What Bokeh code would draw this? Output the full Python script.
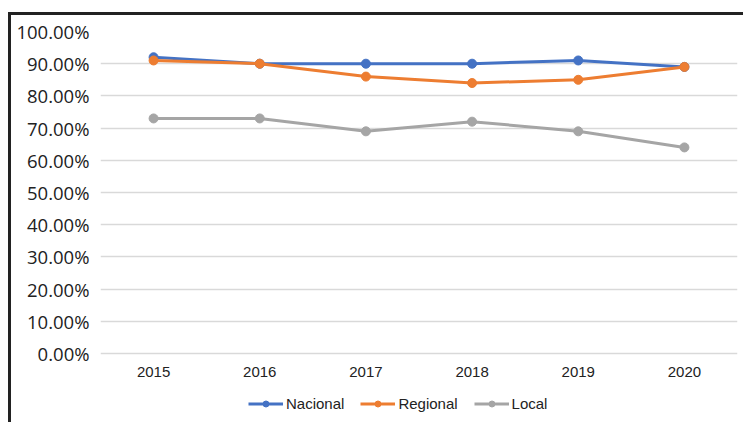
from bokeh.plotting import figure
from bokeh.models import Range1d, NumeralTickFormatter, Legend, LegendItem, FixedTicker
from bokeh.embed import file_html
from bokeh.resources import INLINE

years = ["2015", "2016", "2017", "2018", "2019", "2020"]
nacional = [0.92, 0.90, 0.90, 0.90, 0.91, 0.89]
regional = [0.91, 0.90, 0.86, 0.84, 0.85, 0.89]
local = [0.73, 0.73, 0.69, 0.72, 0.69, 0.64]
series_names = ["Nacional", "Regional", "Local"]
colors = ["#4472C4", "#ED7D31", "#A5A5A5"]
y_ticks = [0, 0.1, 0.2, 0.3, 0.4, 0.5, 0.6, 0.7, 0.8, 0.9, 1.0]

p = figure(x_range=years, y_range=Range1d(-0.2205, 1.0), width=735, height=410,
           output_backend="svg", toolbar_location=None,
           min_border_left=89, min_border_right=9, min_border_top=16, min_border_bottom=1)
p.styles = {"border-top": "3px solid #222", "border-left": "3px solid #222",
            "margin-top": "12px", "margin-left": "8px"}
p.outline_line_color = None
p.background_fill_color = "white"

items = []
for name, vals, c in zip(series_names, [nacional, regional, local], colors):
    l = p.line(years, vals, line_color=c, line_width=3)
    s = p.scatter(years, vals, size=9, fill_color=c, line_color=c)
    items.append(LegendItem(label=name, renderers=[l, s]))

p.yaxis.ticker = FixedTicker(ticks=y_ticks)
p.yaxis.formatter = NumeralTickFormatter(format="0.00%")
p.yaxis.axis_line_color = None
p.yaxis.major_tick_line_color = None
p.yaxis.minor_tick_line_color = None
p.yaxis.major_label_text_font = "Open Sans"
p.yaxis.major_label_text_font_size = "18.5px"
p.yaxis.major_label_text_color = "#222"
p.yaxis.major_label_standoff = 5

p.xaxis.fixed_location = 0
p.xaxis.axis_line_color = None
p.xaxis.major_tick_line_color = None
p.xaxis.major_label_text_font = "Liberation Sans"
p.xaxis.major_label_text_font_size = "15px"
p.xaxis.major_label_text_color = "#222"
p.xaxis.major_label_standoff = 8

p.xgrid.grid_line_color = None
p.ygrid.grid_line_color = "#D9D9D9"
p.ygrid.grid_line_width = 1.5

legend = Legend(items=items, orientation="horizontal", location=(148, 12))
legend.label_text_font = "Liberation Sans"
legend.label_text_font_size = "15px"
legend.label_text_color = "#222"
legend.glyph_width = 35
legend.glyph_height = 15
legend.label_height = 15
legend.label_standoff = 3
legend.spacing = 16
legend.border_line_color = None
legend.background_fill_alpha = 0
legend.padding = 0
legend.margin = 0
p.add_layout(legend)

open("out.html", "w").write(file_html(p, INLINE))
